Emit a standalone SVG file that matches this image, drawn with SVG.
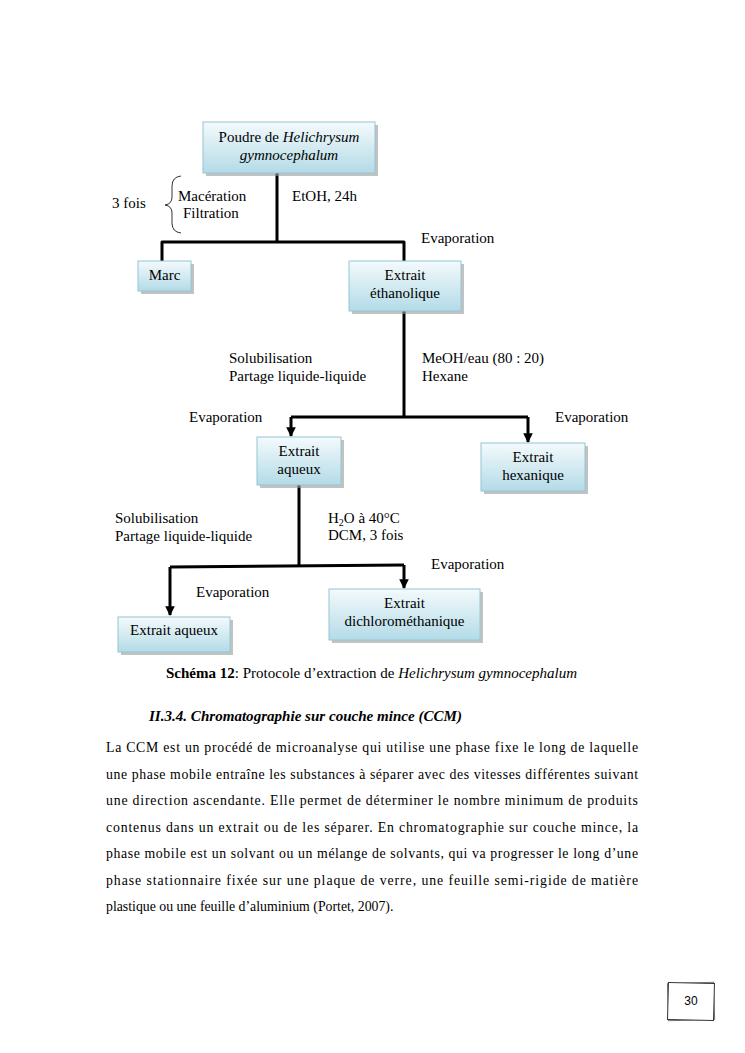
<svg xmlns="http://www.w3.org/2000/svg" width="745" height="1053" viewBox="0 0 745 1053">
<defs>
<linearGradient id="bg" x1="0" y1="0" x2="0" y2="1">
<stop offset="0" stop-color="#f4fafc"/>
<stop offset="1" stop-color="#b3dbe7"/>
</linearGradient>
<marker id="ah" viewBox="0 0 10 10" refX="9" refY="5" markerWidth="3.2" markerHeight="3.2" orient="auto" markerUnits="strokeWidth">
<path d="M0,0 L10,5 L0,10 z" fill="#000"/>
</marker>
</defs>
<style>
.box{fill:url(#bg);stroke:#93c6d6;stroke-width:1}
.sh{fill:#9a9a9a;opacity:0.6}
.t{font-family:"Liberation Serif","Times New Roman",serif;font-size:15px;fill:#000}
.c{text-anchor:middle}
.i{font-style:italic}
.ln{fill:none;stroke:#000;stroke-width:3;stroke-linejoin:round}
.p{font-family:"Liberation Serif","Times New Roman",serif;font-size:13.8px;fill:#000}
</style>
<rect width="745" height="1053" fill="#fff"/>

<g id="connectors">
<path class="ln" d="M277,173 V242 M162,262 V242 H404 V261" stroke-width="3.5"/>
<path class="ln" d="M404,311 V417 M291,417 H528"/>
<path class="ln" d="M291,417 V436" marker-end="url(#ah)"/>
<path class="ln" d="M528,417 V442" marker-end="url(#ah)"/>
<path class="ln" d="M299,485 V566" stroke-width="2"/>
<path class="ln" d="M170,567 L404,565"/>
<path class="ln" d="M170,567 V615" marker-end="url(#ah)"/>
<path class="ln" d="M404,565 V588" marker-end="url(#ah)"/>
<path d="M181,176 Q172,177 172,186 V197 Q172,204 165,205 Q172,206 172,213 V223 Q172,232 181,233" fill="none" stroke="#000" stroke-width="0.8"/>
</g>

<g id="n_poudre">
<rect class="sh" x="206" y="125" width="172" height="51"/>
<rect class="box" x="203" y="122" width="172" height="51"/>
<text class="t c" x="289" y="142">Poudre de <tspan class="i">Helichrysum</tspan></text>
<text class="t c i" x="289" y="160">gymnocephalum</text>
</g>
<g id="n_marc">
<rect class="sh" x="141" y="264" width="53" height="30"/>
<rect class="box" x="138" y="261" width="53" height="30"/>
<text class="t c" x="164.5" y="280">Marc</text>
</g>
<g id="n_ethanol">
<rect class="sh" x="352" y="264" width="112" height="50"/>
<rect class="box" x="349" y="261" width="112" height="50"/>
<text class="t c" x="405" y="280">Extrait</text>
<text class="t c" x="405" y="298">éthanolique</text>
</g>
<g id="n_aqueux1">
<rect class="sh" x="260" y="440" width="84" height="48"/>
<rect class="box" x="257" y="437" width="84" height="48"/>
<text class="t c" x="299" y="456">Extrait</text>
<text class="t c" x="299" y="474">aqueux</text>
</g>
<g id="n_hexane">
<rect class="sh" x="484" y="446" width="104" height="48"/>
<rect class="box" x="481" y="443" width="104" height="48"/>
<text class="t c" x="533" y="462">Extrait</text>
<text class="t c" x="533" y="480">hexanique</text>
</g>
<g id="n_dcm">
<rect class="sh" x="332" y="592" width="151" height="51"/>
<rect class="box" x="329" y="589" width="151" height="51"/>
<text class="t c" x="404.5" y="608">Extrait</text>
<text class="t c" x="404.5" y="626">dichlorométhanique</text>
</g>
<g id="n_aqueux2">
<rect class="sh" x="121" y="620" width="112" height="35"/>
<rect class="box" x="118" y="617" width="112" height="35"/>
<text class="t c" x="174" y="635">Extrait aqueux</text>
</g>

<g id="labels">
<text class="t" x="112" y="208">3 fois</text>
<text class="t" x="178" y="201">Macération</text>
<text class="t" x="183" y="218">Filtration</text>
<text class="t" x="292" y="201">EtOH, 24h</text>
<text class="t" x="421" y="243">Evaporation</text>
<text class="t" x="229" y="363">Solubilisation</text>
<text class="t" x="229" y="381">Partage liquide-liquide</text>
<text class="t" x="422" y="363">MeOH/eau (80 : 20)</text>
<text class="t" x="422" y="381">Hexane</text>
<text class="t" x="189" y="422">Evaporation</text>
<text class="t" x="555" y="422">Evaporation</text>
<text class="t" x="115" y="523">Solubilisation</text>
<text class="t" x="115" y="541">Partage liquide-liquide</text>
<text class="t" x="328" y="523">H<tspan font-size="10" dy="3">2</tspan><tspan dy="-3">O à 40°C</tspan></text>
<text class="t" x="328" y="540">DCM, 3 fois</text>
<text class="t" x="431" y="569">Evaporation</text>
<text class="t" x="196" y="597">Evaporation</text>
</g>

<g id="text">
<text class="p" x="166" y="678" textLength="411" lengthAdjust="spacingAndGlyphs"><tspan font-weight="bold">Schéma 12</tspan>: Protocole d’extraction de <tspan font-style="italic">Helichrysum gymnocephalum</tspan></text>
<text class="p" x="149" y="721" font-weight="bold" font-style="italic" textLength="313" lengthAdjust="spacingAndGlyphs">II.3.4. Chromatographie sur couche mince (CCM)</text>
<text class="p" x="106" y="752" textLength="532" lengthAdjust="spacing">La CCM est un procédé de microanalyse qui utilise une phase fixe le long de laquelle</text>
<text class="p" x="106" y="779" textLength="532" lengthAdjust="spacing">une phase mobile entraîne les substances à séparer avec des vitesses différentes suivant</text>
<text class="p" x="106" y="805" textLength="532" lengthAdjust="spacing">une direction ascendante. Elle permet de déterminer le nombre minimum de produits</text>
<text class="p" x="106" y="832" textLength="532" lengthAdjust="spacing">contenus dans un extrait ou de les séparer. En chromatographie sur couche mince, la</text>
<text class="p" x="106" y="858" textLength="532" lengthAdjust="spacing">phase mobile est un solvant ou un mélange de solvants, qui va progresser le long d’une</text>
<text class="p" x="106" y="885" textLength="532" lengthAdjust="spacing">phase stationnaire fixée sur une plaque de verre, une feuille semi-rigide de matière</text>
<text class="p" x="106" y="911">plastique ou une feuille d’aluminium (Portet, 2007).</text>
</g>

<g id="pagenum">
<rect x="668" y="983" width="46" height="37" fill="#fff" stroke="#777" stroke-width="1" transform="rotate(-2 691 1001)"/>
<rect x="668" y="983" width="46" height="37" fill="#fff" stroke="#333" stroke-width="1" transform="rotate(1.5 691 1001)"/>
<text x="691" y="1005" text-anchor="middle" font-family="'Liberation Sans',Arial,sans-serif" font-size="12">30</text>
</g>
</svg>
